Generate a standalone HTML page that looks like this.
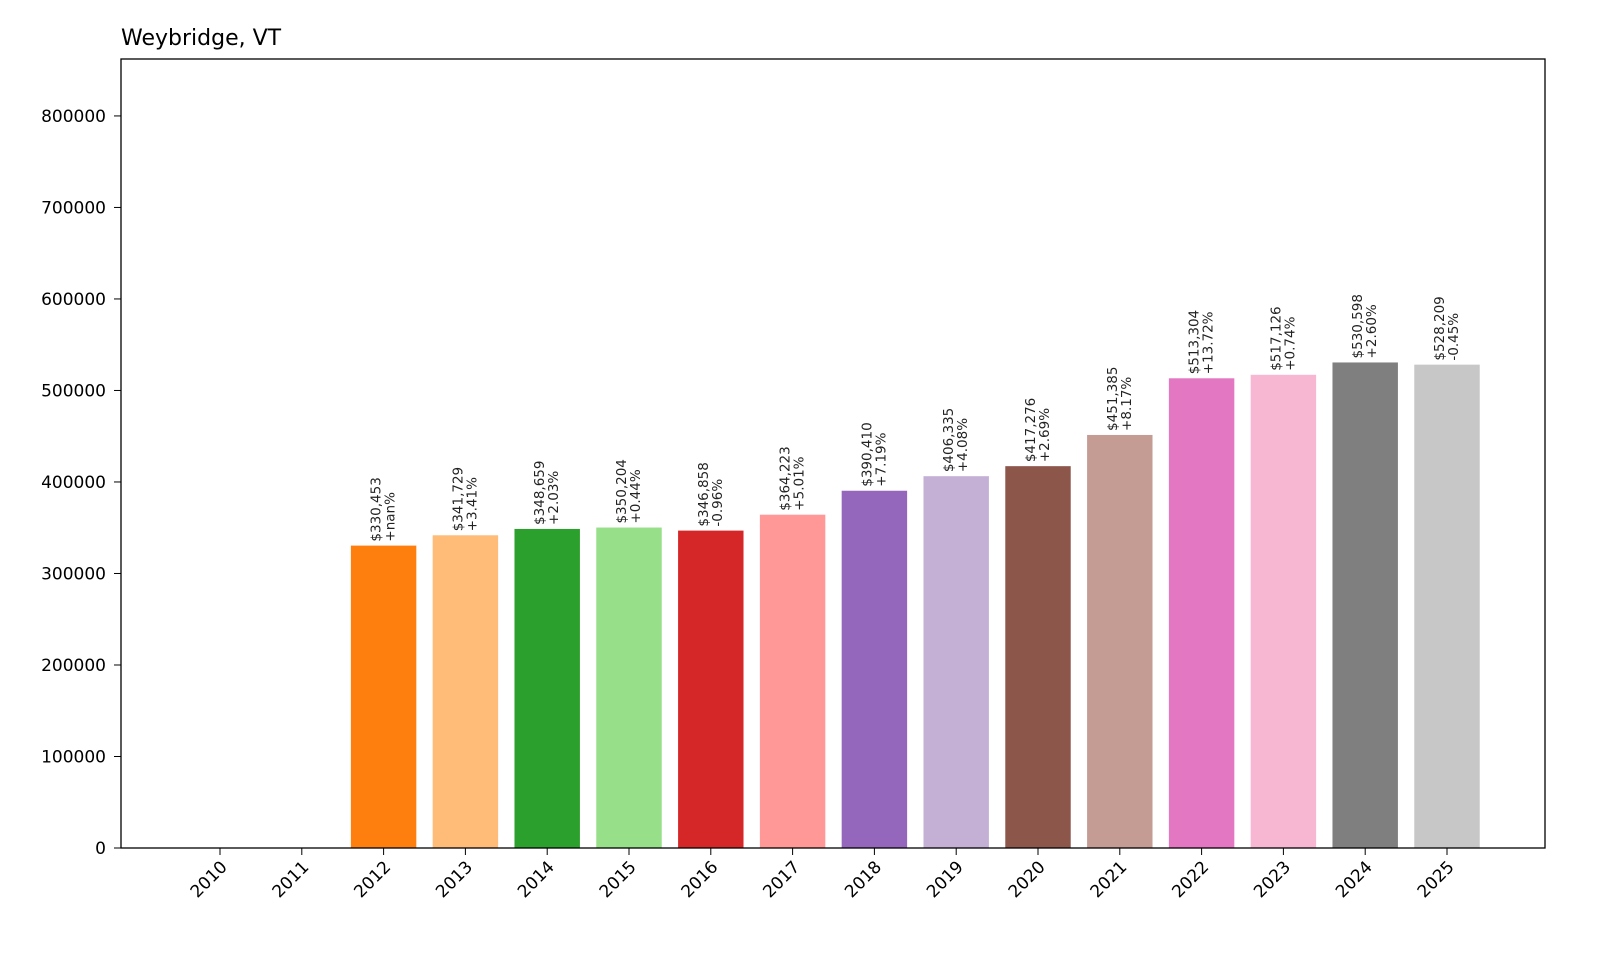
<!DOCTYPE html>
<html><head><meta charset="utf-8"><style>
body{margin:0;background:#fff;font-family:"Liberation Sans","DejaVu Sans",sans-serif}
</style></head><body>
<svg id="chart" width="1600" height="960" xmlns="http://www.w3.org/2000/svg" font-family="DejaVu Sans, Liberation Sans, sans-serif">
<rect width="1600" height="960" fill="#fff"/>
<text x="121" y="45" font-size="22" fill="#000">Weybridge, VT</text>
<g id="bars"></g><g id="yaxis"></g><g id="xaxis"></g><g id="labels"></g>
<rect x="121" y="59" width="1424" height="789" fill="none" stroke="#000" stroke-width="1.3"/>
</svg>
<script>
const years=["2010","2011","2012","2013","2014","2015","2016","2017","2018","2019","2020","2021","2022","2023","2024","2025"];
const values=[0,0,330453,341729,348659,350204,346858,364223,390410,406335,417276,451385,513304,517126,530598,528209];
const changes=["","","+nan%","+3.41%","+2.03%","+0.44%","-0.96%","+5.01%","+7.19%","+4.08%","+2.69%","+8.17%","+13.72%","+0.74%","+2.60%","-0.45%"];
const yTicks=[0,100000,200000,300000,400000,500000,600000,700000,800000];
const colors=["#1f77b4","#aec7e8","#ff7f0e","#ffbb78","#2ca02c","#98df8a","#d62728","#ff9896","#9467bd","#c5b0d5","#8c564b","#c49c94","#e377c2","#f7b6d2","#7f7f7f","#c7c7c7"];
const NS="http://www.w3.org/2000/svg";
const y0=848,yTop=59,yMax=Math.max(...values)*1.625;
const Y=v=>y0-v/yMax*(y0-yTop);
const step=81.8,X=i=>220+i*step,bw=step*0.8;
function mk(tag,attrs,parent){const e=document.createElementNS(NS,tag);for(const k in attrs)e.setAttribute(k,attrs[k]);parent.appendChild(e);return e;}
const bars=document.getElementById('bars'),ya=document.getElementById('yaxis'),xa=document.getElementById('xaxis'),lb=document.getElementById('labels');
yTicks.forEach(t=>{
  const l=mk('line',{x1:114,x2:121,y1:Y(t),y2:Y(t),stroke:'#000'},ya);
  
  
  const tx=mk('text',{x:106,y:Y(t)+6,'text-anchor':'end','font-size':17},ya);
  
  
  tx.textContent=t;
});
years.forEach((yr,i)=>{
  const cx=X(i);
  if(values[i]>0){
    const r=mk('rect',{x:cx-bw/2,y:Y(values[i]),width:bw,height:y0-Y(values[i]),fill:colors[i]},bars);
    
    
    const t=mk('text',{transform:`translate(${cx},${Y(values[i])-4}) rotate(-90)`,'font-size':13.5,fill:'#222'},lb);
    
    
    const a=mk('tspan',{x:0,dy:-3},t);a.textContent='$'+values[i].toLocaleString('en-US');
    const b=mk('tspan',{x:0,dy:14},t);b.textContent=changes[i];
  }
  const tk=mk('line',{x1:cx,x2:cx,y1:848,y2:855,stroke:'#000'},xa);
  
  
  const tl=mk('text',{transform:`translate(${cx+8},${868}) rotate(-45)`,'text-anchor':'end','font-size':17},xa);
  
  
  tl.textContent=yr;
});
</script>
</body></html>
